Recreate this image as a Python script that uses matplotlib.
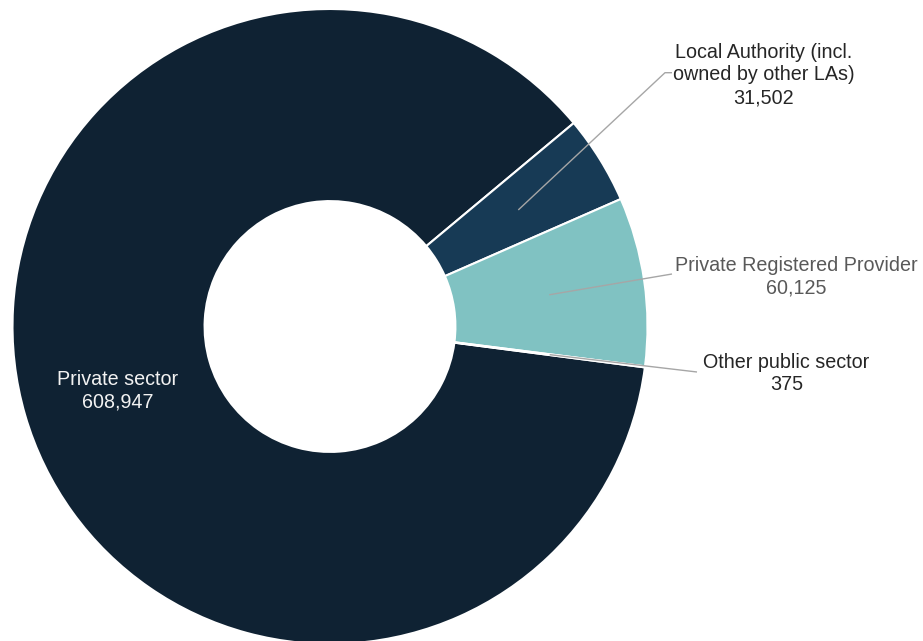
import numpy as np
import matplotlib
matplotlib.use("Agg")
import matplotlib.pyplot as plt

plt.rcParams['font.family'] = ['Liberation Sans', 'DejaVu Sans']

# Dwellings by tenure
categories = ["Private sector", "Local Authority (incl.\nowned by other LAs)",
              "Private Registered Provider", "Other public sector"]
values = [608947, 31502, 60125, 375]
colors = ["#0f2233", "#173a55", "#80c2c2", "#d9d9d9"]
text_colors = ["#f2f2f2", "#262626", "#595959", "#262626"]

W, H = 923, 641
R_PX = 317.5          # outer radius in pixels
CX, CY = 330, 326.5   # centre in pixels (from top-left)


def px(x, y):
    """pixel position (from top-left) -> data coords with unit outer radius"""
    return (x - CX) / R_PX, (CY - y) / R_PX


fig = plt.figure(figsize=(W / 100, H / 100), dpi=100)
ax = fig.add_axes([0, 0, 1, 1])

width = 0.605
wedges, _ = ax.pie(values, colors=colors, radius=1.0, startangle=352.6,
                   counterclock=False,
                   wedgeprops=dict(width=width, edgecolor="white", linewidth=1.5))

# pie() resets the limits, so pin them afterwards
ax.set_xlim(-CX / R_PX, (W - CX) / R_PX)
ax.set_ylim(-(H - CY) / R_PX, CY / R_PX)
ax.set_aspect("equal")
ax.axis("off")

fmt = lambda v: f"{v:,}"
fs = 14.2
ls = 1.25

# Private sector label sits inside the ring
ax.text(*px(117.5, 390.5), f"{categories[0]}\n{fmt(values[0])}", ha="center",
        va="center", color=text_colors[0], fontsize=fs, linespacing=ls)

# outside labels with leader lines: (text centre, elbow, line end)
outside = {
    1: (px(764, 75), px(665, 72.7), px(672, 72.7)),
    2: (px(796.7, 277), px(672, 274), px(672, 274)),
    3: (px(786.5, 373.5), px(697, 372), px(697, 372)),
}
r_mid = 1 - width / 2
for i, (tpos, elbow, end) in outside.items():
    w = wedges[i]
    ang = np.deg2rad((w.theta1 + w.theta2) / 2)
    start = (r_mid * np.cos(ang), r_mid * np.sin(ang))
    ax.plot([start[0], elbow[0], end[0]], [start[1], elbow[1], end[1]],
            color="#a6a6a6", lw=1.0, solid_capstyle="butt")
    ax.text(*tpos, f"{categories[i]}\n{fmt(values[i])}", ha="center",
            va="center", color=text_colors[i], fontsize=fs, linespacing=ls)

fig.savefig("out.png", dpi=100)
